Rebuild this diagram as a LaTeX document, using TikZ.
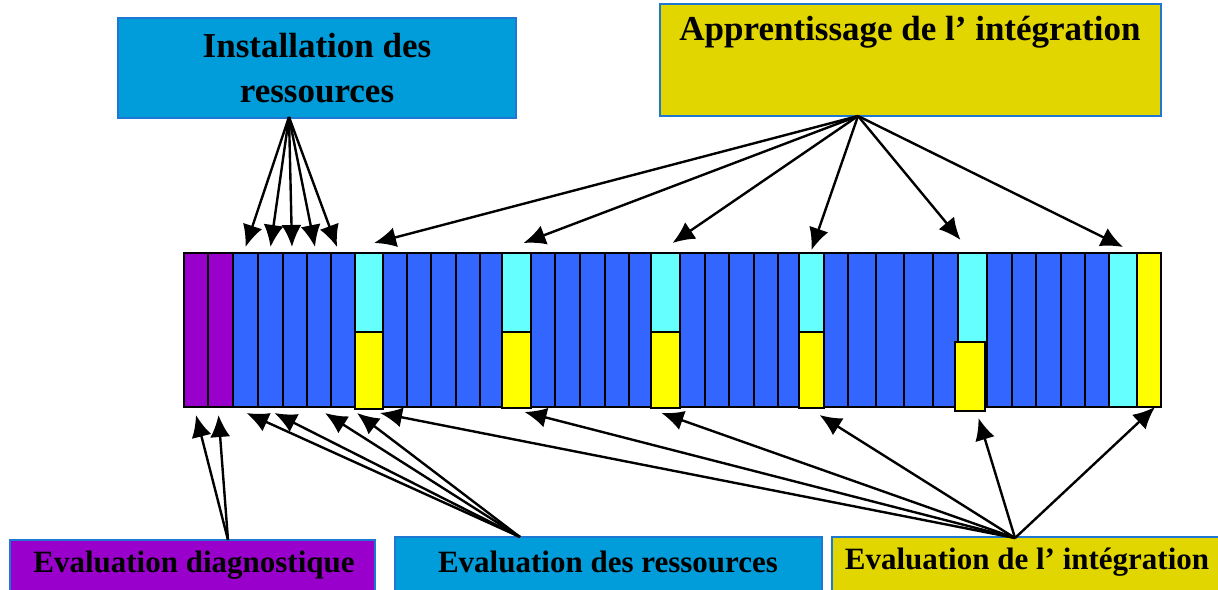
\documentclass[tikz,border=0pt]{standalone}
\usepackage{fontspec}
\setmainfont{Liberation Serif}
\usetikzlibrary{arrows.meta,calc,positioning}

\definecolor{diagpurple}{RGB}{153,0,204}
\definecolor{resblue}{RGB}{0,157,218}
\definecolor{intyellow}{RGB}{225,214,0}
\definecolor{frameblue}{RGB}{30,120,210}
\definecolor{cellblue}{RGB}{51,102,255}
\definecolor{cellcyan}{RGB}{102,255,255}
\definecolor{cellyellow}{RGB}{255,255,0}

\tikzset{
  cell/.style={draw=black, line width=1.3pt, inner sep=0pt, outer sep=0pt, minimum height=77pt},
  box/.style={draw=frameblue, line width=1pt, inner sep=0pt},
  title/.style={font=\bfseries\fontsize{17.5}{22.5}\selectfont, align=center},
  caption/.style={font=\bfseries\fontsize{15.5}{18}\selectfont},
  arr/.style={-{Latex[length=11pt,width=10pt]}, line width=1.2pt},
}

\begin{document}
\begin{tikzpicture}[x=0.5pt,y=-0.5pt]
		\useasboundingbox (0,0) rectangle (1218,589);
		
		% strip of sessions
		\foreach \i/\l/\r/\col in {1/184/208/diagpurple, 2/208/233/diagpurple,
			3/233/258/cellblue, 4/258/283/cellblue, 5/283/307/cellblue, 6/307/331/cellblue, 7/331/355/cellblue,
			8/355/383/cellcyan,
			9/383/407/cellblue, 10/407/431/cellblue, 11/431/456/cellblue, 12/456/480/cellblue, 13/480/502/cellblue,
			14/502/531/cellcyan,
			15/531/555/cellblue, 16/555/580/cellblue, 17/580/605/cellblue, 18/605/629/cellblue, 19/629/651/cellblue,
			20/651/680/cellcyan,
			21/680/705/cellblue, 22/705/729/cellblue, 23/729/754/cellblue, 24/754/778/cellblue, 25/778/799/cellblue,
			26/799/824/cellcyan,
			27/824/848/cellblue, 28/848/876/cellblue, 29/876/904/cellblue, 30/904/933/cellblue, 31/933/958/cellblue,
			32/958/987/cellcyan,
			33/987/1012/cellblue, 34/1012/1036/cellblue, 35/1036/1061/cellblue, 36/1061/1085/cellblue, 37/1085/1109/cellblue,
			38/1109/1137/cellcyan, 39/1137/1161/cellyellow}
			\node[cell, fill=\col, minimum width={(\r-\l)*0.5pt}] (c\i) at ({(\l+\r)/2},330) {};
		
		% yellow halves
		\foreach \i/\l/\r/\t/\b in {8/355/383/332/409, 14/502/531/332/408, 20/651/680/332/408,
			26/799/824/332/408, 32/955/985/342/411}
			\node[cell, fill=cellyellow, minimum width={(\r-\l)*0.5pt}, minimum height={(\b-\t)*0.5pt}]
				(y\i) at ({(\l+\r)/2},{(\t+\b)/2}) {};
		
		% top boxes
		\node[box, fill=resblue, minimum width=199pt, minimum height=50pt, title] (inst) at (317,68)
			{Installation des\\ressources};
		\node[box, fill=intyellow, minimum width=250.5pt, minimum height=56pt] (appr) at (910.5,60) {};
		\node[title] (apprTxt) at (910,32) {Apprentissage de l’ intégration};
		
		% bottom boxes
		\node[box, fill=diagpurple, minimum width=182.5pt, minimum height=30pt] (diag) at (192.5,570) {};
		\node[caption] (diagTxt) at (194,565) {Evaluation diagnostique};
		\node[box, fill=resblue, minimum width=213.5pt, minimum height=31.5pt] (eres) at (608.5,568.5) {};
		\node[caption] (eresTxt) at (608,562) {Evaluation des ressources};
		\node[box, fill=intyellow, minimum width=196pt, minimum height=31.5pt] (eint) at (1028,568.5) {};
		\node[caption] (eintTxt) at (1027,562) {Evaluation de l’ intégration};
		
		% arrow origins
		\coordinate (iO) at (289,117);
		\coordinate (aO) at (858,116);
		\coordinate (dO) at (228,540);
		\coordinate (rO) at (520,537);
		\coordinate (gO) at (1015,538);
		
		% installation -> resources
		\foreach \c/\dx in {3/0, 4/0, 5/-1.5, 6/-2, 7/-3}
			\draw[arr] (iO) -- ([xshift=\dx pt, yshift=3pt]c\c.north);
		
		% apprentissage -> integration sessions
		\foreach \c/\dx/\dy in {8/2.5/5, 14/3.5/5, 20/3.5/5, 26/0/1.5, 32/-6/6.5, 38/0/3}
			\draw[arr] (aO) -- ([xshift=\dx pt, yshift=\dy pt]c\c.north);
		
		% evaluations
		\foreach \c/\dx in {1/0, 2/-1}
			\draw[arr] (dO) -- ([xshift=\dx pt, yshift=-4pt]c\c.south);
		\foreach \c/\dx in {3/0.5, 4/2, 6/3, 8/-6}
			\draw[arr] (rO) -- ([xshift=\dx pt, yshift=-3pt]c\c.south);
		\foreach \c/\dx/\dy in {8/5.5/3, 14/4/2.5, 20/-2/3, 26/4/4, 32/3/5.5, 39/3/0}
			\draw[arr] (gO) -- ([xshift=\dx pt, yshift=-\dy pt]c\c.south);
\end{tikzpicture}
\end{document}
